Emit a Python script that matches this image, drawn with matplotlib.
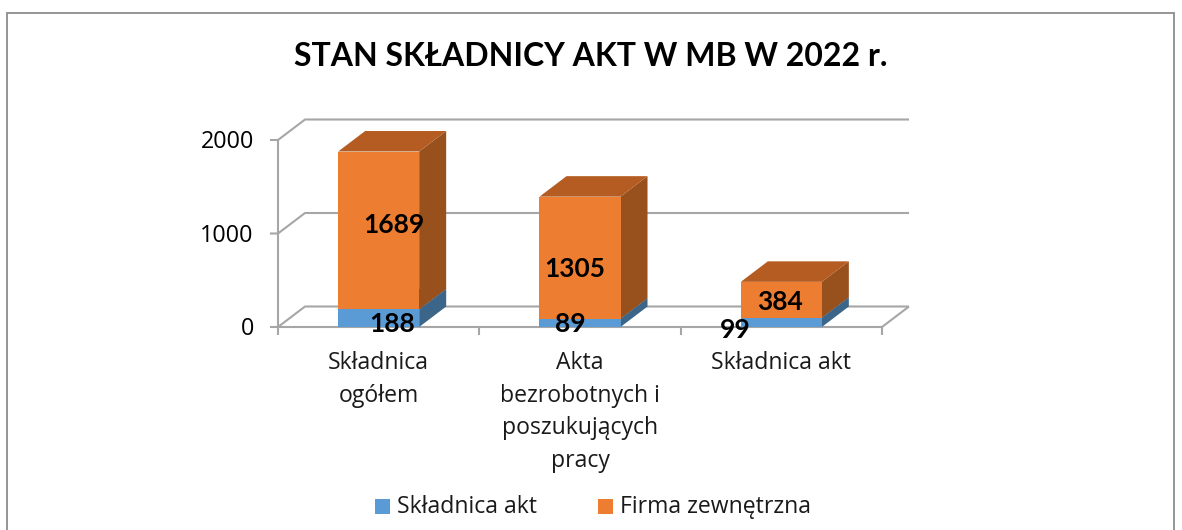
import matplotlib
matplotlib.use('Agg')
import matplotlib.pyplot as plt
from matplotlib.patches import Polygon, Rectangle

categories = ['Składnica\nogółem', 'Akta\nbezrobotnych i\nposzukujących\npracy', 'Składnica akt']
skladnica = [188, 89, 99]
firma = [1689, 1305, 384]
yticks = [0, 1000, 2000]
title = 'STAN SKŁADNICY AKT W MB W 2022 r.'
series_names = ['Składnica akt', 'Firma zewnętrzna']

W, H = 1182, 530
BLUE, BLUE_SIDE, BLUE_TOP = '#5B9BD5', '#3B6689', '#44749E'
ORANGE, ORANGE_SIDE, ORANGE_TOP = '#ED7D31', '#98501D', '#B45C21'
GRID = '#A6A6A6'

# depth of the fake 3d box, in data units
DX = 27 / 201.3
DY = 20.5 / 0.0935
BAR_W = 81 / 201.3

fig = plt.figure(figsize=(W / 100, H / 100), dpi=100)
ax = fig.add_axes([278 / W, 1 - 327 / H, 604 / W, 187 / H])
ax.set_xlim(0, 3)
ax.set_ylim(0, 2000)
ax.axis('off')


def px(x, y):
    return x / W, 1 - y / H


def box(x0, x1, y0, y1, front, side, top):
    ax.add_patch(Polygon([(x1, y0), (x1 + DX, y0 + DY), (x1 + DX, y1 + DY), (x1, y1)],
                         fc=side, ec='none', clip_on=False, zorder=3))
    ax.add_patch(Polygon([(x0, y1), (x1, y1), (x1 + DX, y1 + DY), (x0 + DX, y1 + DY)],
                         fc=top, ec='none', clip_on=False, zorder=3))
    ax.add_patch(Rectangle((x0, y0), x1 - x0, y1 - y0, fc=front, ec='none', clip_on=False, zorder=4))


# frame around the chart
fig.add_artist(Rectangle(px(7, 540), 1167 / W, 527 / H, transform=fig.transFigure,
                         fc='none', ec='#8C8C8C', lw=1.3))

# walls and gridlines
line = dict(color=GRID, lw=1.5, clip_on=False, zorder=1, solid_capstyle='butt')
for t in yticks:
    ax.plot([-0.04, 0, DX, 3 + DX], [t, t, t + DY, t + DY], **line)
ax.plot([0, 0], [yticks[0], yticks[-1]], **line)
ax.plot([3, 3 + DX], [0, DY], **line)
ax.plot([0, 3], [0, 0], **line)
for i in range(4):
    ax.plot([i, i], [0, -85], **line)

for i in range(len(categories)):
    x0 = i + 0.5 - BAR_W / 2
    x1 = x0 + BAR_W
    box(x0, x1, 0, skladnica[i], BLUE, BLUE_SIDE, BLUE_TOP)
    box(x0, x1, skladnica[i], skladnica[i] + firma[i], ORANGE, ORANGE_SIDE, ORANGE_TOP)

fig.text(*px(591, 57), title, family='Lato', weight='bold', fontsize=23,
         ha='center', va='center', color='black')

for t in yticks:
    ax.text(-0.12, t - 25, str(t), family='Open Sans', fontsize=16.8, ha='right', va='center',
            clip_on=False)

# category labels, wide leading like the original
for i, name in enumerate(categories):
    fig.text(*px(278 + 201.3 * (i + 0.5), 351), name, family='Open Sans', fontsize=16.6,
             ha='center', va='top', linespacing=1.48, color='#1a1a1a')

# data labels sit where they were dragged in the original chart
label_pos = [(394, 225), (575, 269), (780, 302), (392, 324), (570, 324), (735, 330)]
for (x, y), v in zip(label_pos, firma + skladnica):
    fig.text(*px(x, y), str(v), family='Lato', weight='bold', fontsize=19,
             ha='center', va='center', color='black', zorder=10)

# legend
for x, c, name in zip((375, 598), (BLUE, ORANGE), series_names):
    fig.add_artist(Rectangle(px(x, 514), 15 / W, 15 / H, transform=fig.transFigure, fc=c, ec='none'))
    fig.text(*px(x + 22, 507), name, family='Open Sans', fontsize=16.6, ha='left', va='center',
             color='#1a1a1a')

fig.savefig('out.png', dpi=100, facecolor='white')
